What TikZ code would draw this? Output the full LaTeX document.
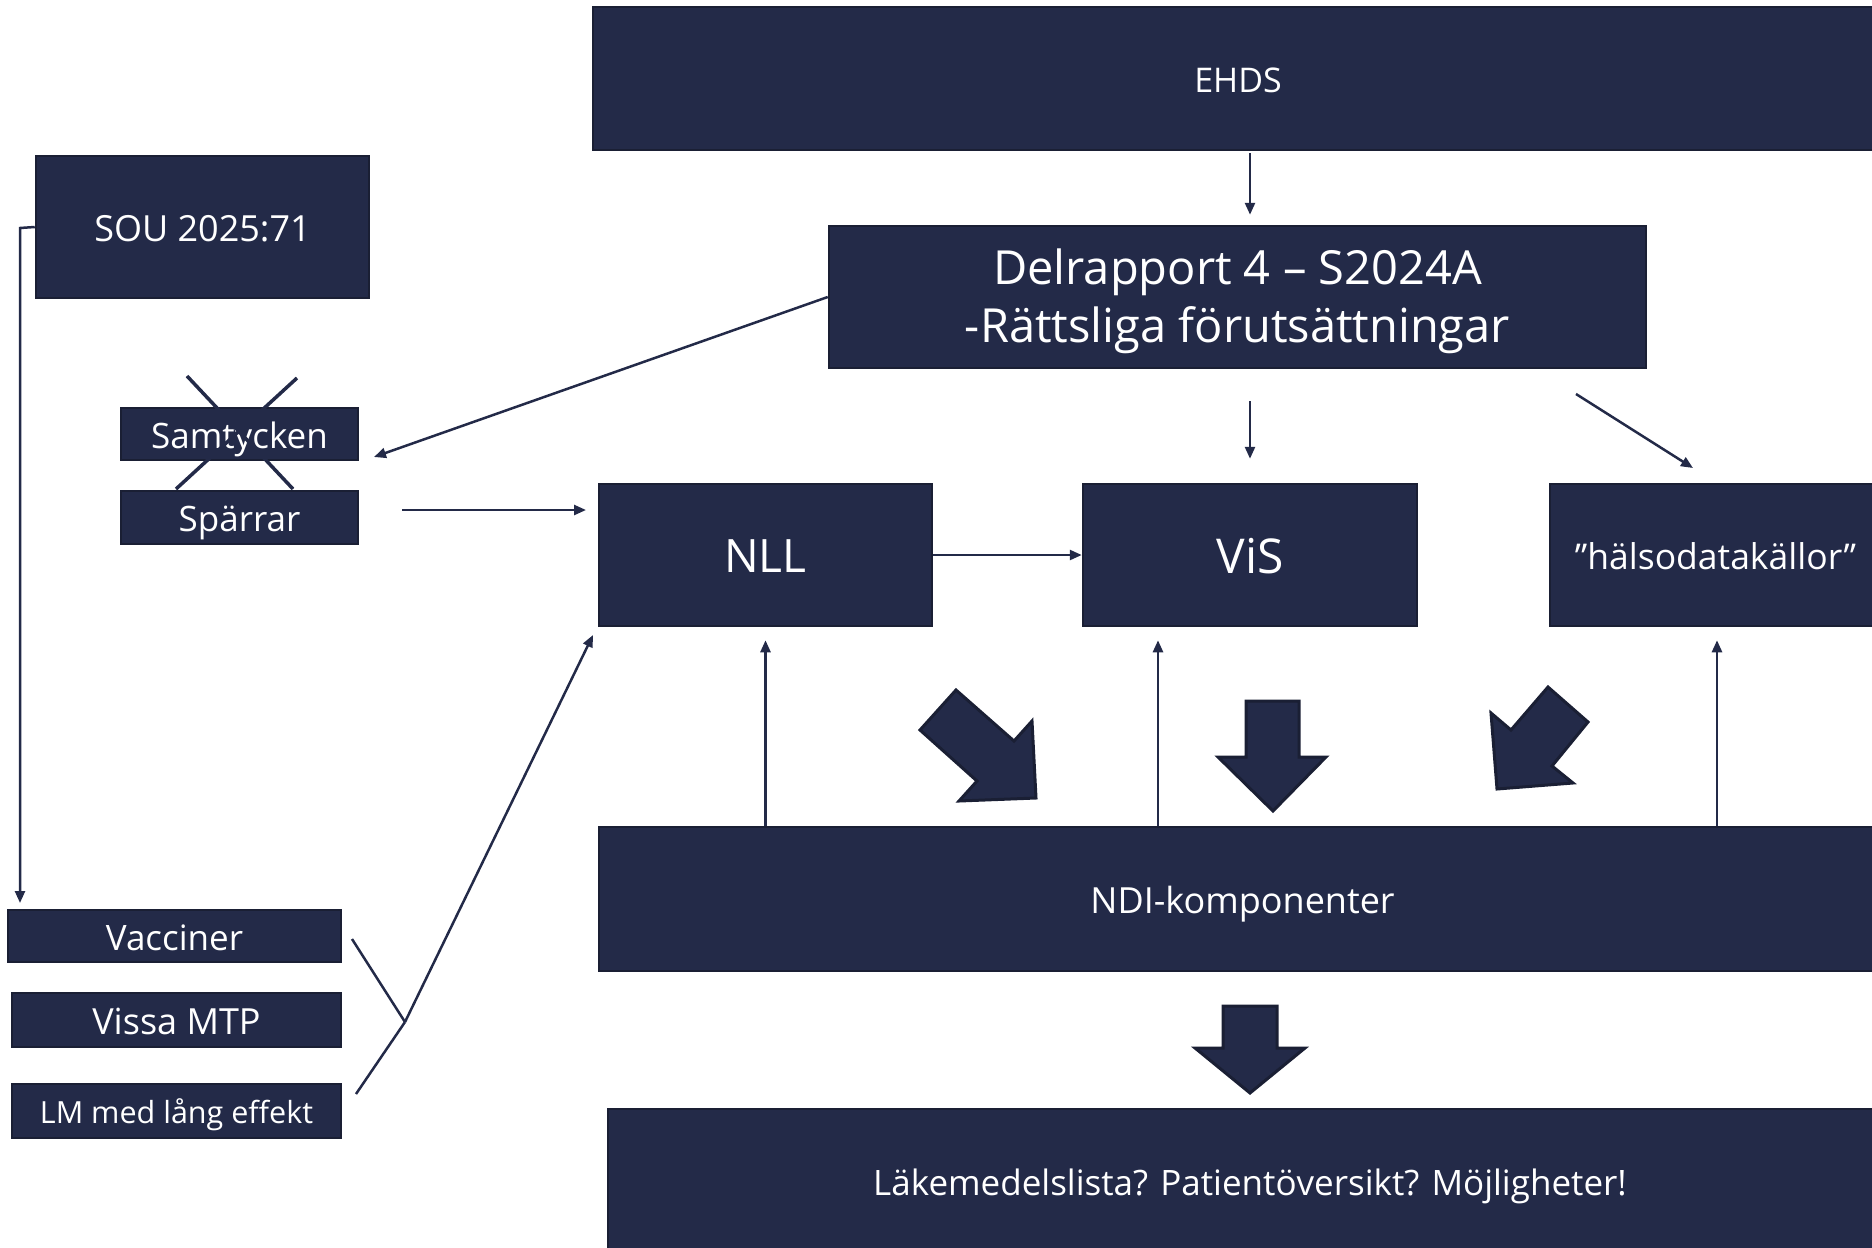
\documentclass[tikz,border=0pt]{standalone}
\usepackage{fontspec}
\setmainfont{Open Sans}
\usetikzlibrary{arrows.meta}
\definecolor{navy}{RGB}{35,42,72}
\definecolor{navyedge}{RGB}{26,31,52}
\begin{document}
\begin{tikzpicture}[x=1pt,y=-1pt,
 box/.style={draw=navyedge, line width=2.5pt, fill=navy, text=white, inner sep=0pt, align=center, text depth=0pt},
 fs/.style={font=\fontsize{#1}{#1}\selectfont, text height=0.714*#1pt+3pt},
 arr/.style={draw=navy, line width=2.5pt, -{Triangle[length=12pt,width=10pt]}},
 ln/.style={draw=navy, line width=2.5pt},
 crossln/.style={draw=navy, line width=3.5pt},
 block/.style={fill=navy, draw=navyedge, line width=3pt, line join=miter}]
\useasboundingbox (0,0) rectangle (1872,1248);
\clip (0,0) rectangle (1872,1248);
% boxes
\node[box, fs=34, minimum width=1290pt, minimum height=143pt] (ehds) at (1238,78.5) {EHDS};
\node[box, fs=36, minimum width=333pt, minimum height=142pt] (sou) at (202.5,227) {SOU 2025:71};
\node[box, font=\fontsize{47}{58}\selectfont, text height=91pt, minimum width=817pt, minimum height=142pt] (del) at (1237.5,297) {Delrapport 4 – S2024A\\-Rättsliga förutsättningar};
\node[box, fs=35, minimum width=237pt, minimum height=52pt] (samt) at (239.5,434) {Samtycken};
\node[box, fs=35, minimum width=237pt, minimum height=53pt] (spar) at (239.5,517.5) {Spärrar};
\node[box, fs=46, minimum width=333pt, minimum height=142pt] (nll) at (765.5,555) {NLL};
\node[box, fs=48, minimum width=334pt, minimum height=142pt] (vis) at (1250,555) {ViS};
\node[box, fs=35.5, minimum width=331pt, minimum height=142pt] (hals) at (1715.5,555) {”hälsodatakällor”};
\node[box, fs=36, minimum width=1287pt, minimum height=144pt] (ndi) at (1242.5,899) {NDI-komponenter};
\node[box, fs=35, minimum width=1284pt, minimum height=144pt] (lak) at (1250,1181) {Läkemedelslista? Patientöversikt? Möjligheter!};
\node[box, fs=35, minimum width=333pt, minimum height=52pt] (vacc) at (174.5,936) {Vacciner};
\node[box, fs=36, minimum width=329pt, minimum height=54pt] (vissa) at (176.5,1020) {Vissa MTP};
\node[box, fs=30.5, minimum width=329pt, minimum height=54pt] (lm) at (176.5,1111) {LM med lång effekt};
% crosses over Samtycken
\draw[crossln] (187,376) -- (293,489);
\draw[crossln] (297,378) -- (176,489);
% coordinates
\coordinate (samtIn) at (374,457);
\coordinate (sparOut) at (402,510);
\coordinate (nllIn) at (586,510);
\coordinate (souCorner) at (20,228);
\coordinate (vaccIn) at (20,903);
\coordinate (hlsOut) at (1576,394);
\coordinate (hlsIn) at (1693,468);
\coordinate (brA) at (352,939);
\coordinate (brB) at (356,1094);
\coordinate (brJ) at (405,1022);
\coordinate (brEnd) at (593,635);
% connectors
\draw[arr, shorten <=2pt, shorten >=10pt] (ehds.south -| vis.center) -- (del.north -| vis.center);
\draw[arr, shorten <=32pt, shorten >=24pt] (del.south -| vis.center) -- (vis.north);
\draw[arr] (hlsOut) -- (hlsIn);
\draw[arr] (del.west) -- (samtIn);
\draw[arr] (sparOut) -- (nllIn);
\draw[arr] (nll.east) -- (vis.west);
\draw[arr] (sou.west) -- (souCorner) -- (vaccIn);
\draw[arr, shorten >=13pt] (ndi.north -| nll.center) -- (nll.south);
\draw[arr, shorten >=13pt] (ndi.north -| 1158,0) -- (vis.south -| 1158,0);
\draw[arr, shorten >=13pt] (ndi.north -| 1717,0) -- (hals.south -| 1717,0);
\draw[ln] (brA) -- (brJ);
\draw[ln] (brB) -- (brJ);
\draw[arr] (brJ) -- (brEnd);
% block arrows
\draw[block] (956,690) -- (920,730) -- (977,781) -- (959,801) -- (1036,798) -- (1032,721) -- (1014,741) -- cycle;
\draw[block] (1246,701) -- (1299,701) -- (1299,757) -- (1326,757) -- (1273,811) -- (1218,757) -- (1246,757) -- cycle;
\draw[block] (1548,687) -- (1588,722) -- (1552,766) -- (1573,783) -- (1497,789) -- (1491,713) -- (1511,730) -- cycle;
\draw[block] (1223,1006) -- (1277,1006) -- (1277,1048) -- (1305,1048) -- (1250,1093) -- (1195,1048) -- (1223,1048) -- cycle;
\end{tikzpicture}
\end{document}
